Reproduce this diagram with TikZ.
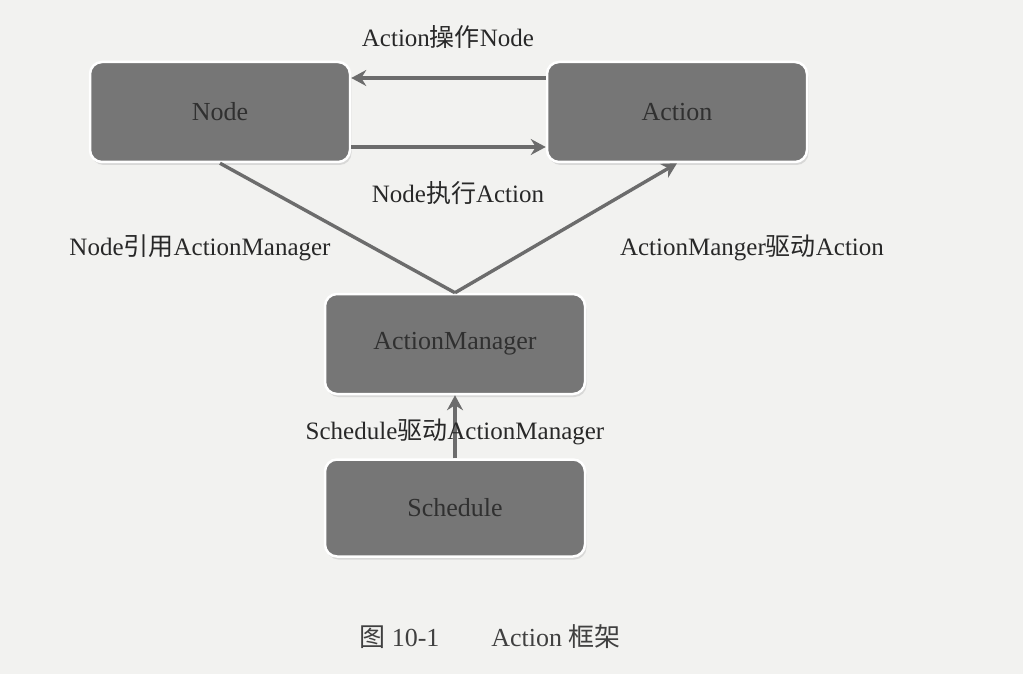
\documentclass[tikz,border=0pt]{standalone}
\usepackage{fontspec}
\setmainfont{Liberation Serif}
\newfontfamily\cjk{Noto Sans CJK SC}
\usetikzlibrary{arrows.meta,shadows,calc}
\definecolor{bgc}{RGB}{242,242,240}
\definecolor{boxgray}{RGB}{118,118,118}
\definecolor{boxtext}{RGB}{48,48,48}
\definecolor{linec}{RGB}{108,108,108}
\definecolor{labc}{RGB}{40,40,40}
\begin{document}
\begin{tikzpicture}[x=1pt,y=-1pt,
  box/.style={rounded corners=12pt, fill=boxgray, draw=white, line width=2.5pt,
    minimum width=260pt, minimum height=100pt, text=boxtext,
    font=\fontsize{26}{30}\selectfont,
    drop shadow={shadow xshift=1.5pt, shadow yshift=-3pt, fill=black!25}},
  conn/.style={draw=linec, line width=3.4pt},
  arr/.style={conn, -{Stealth[length=15pt,width=16pt,inset=5pt]}},
  lab/.style={text=labc, font=\fontsize{25}{30}\selectfont, inner sep=1pt}]
\path[fill=bgc] (0,0) rectangle (1023,674);
\useasboundingbox (0,0) rectangle (1023,674);
\node[box] (node) at (220,112) {Node};
\node[box] (action) at (677,112) {Action};
\node[box] (am) at (455,344) {ActionManager};
\node[box, minimum height=97pt] (sched) at (455,508) {Schedule};
\draw[arr] ($(action.west)+(0,-34)$) -- ($(node.east)+(0,-34)$);
\draw[arr] ($(node.east)+(0,35)$) -- ($(action.west)+(0,35)$);
\draw[conn] (node.south) -- (am.north);
\draw[arr] (am.north) -- (action.south);
\draw[arr] (sched.north) -- (am.south);
\node[lab] (l1) at (448,37) {Action{\cjk 操作}Node};
\node[lab] (l2) at (458,193) {Node{\cjk 执行}Action};
\node[lab] (l3) at (200,248) {Node{\cjk 引用}ActionManager};
\node[lab] (l4) at (752,248) {ActionManger{\cjk 驱动}Action};
\node[lab] (l5) at (455,432) {Schedule{\cjk 驱动}ActionManager};
\node[lab, text=black!75, font=\fontsize{26}{30}\selectfont] (cap) at (490,637) {{\cjk 图} 10-1\quad\quad Action {\cjk 框架}};
\end{tikzpicture}
\end{document}
